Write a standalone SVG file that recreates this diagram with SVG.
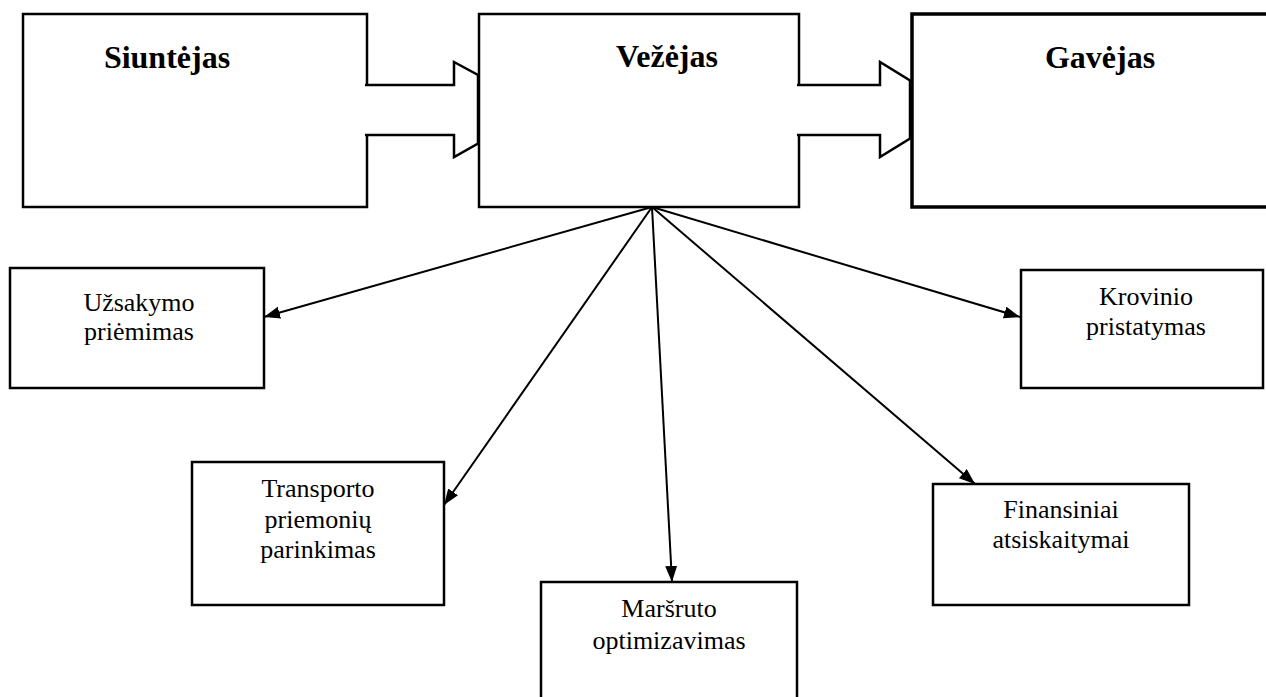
<svg xmlns="http://www.w3.org/2000/svg" width="1266" height="697" viewBox="0 0 1266 697">
  <style>
    .box { fill: #ffffff; stroke: #000000; stroke-width: 2.5; }
    .thick { stroke-width: 3.5; }
    .title { font-family: "Liberation Serif", "Times New Roman", serif; font-size: 32px; font-weight: bold; text-anchor: middle; fill: #000; }
    .label { font-family: "Liberation Serif", "Times New Roman", serif; font-size: 26px; text-anchor: middle; fill: #000; }
    .link { stroke: #000; stroke-width: 2; fill: none; marker-end: url(#head); }
    .block { fill: #ffffff; stroke: #000; stroke-width: 2.5; stroke-linejoin: miter; }
  </style>
  <defs>
    <marker id="head" markerUnits="userSpaceOnUse" markerWidth="18" markerHeight="14" refX="16" refY="6" orient="auto">
      <path d="M0,0 L16,6 L0,12 Z" fill="#000"/>
    </marker>
  </defs>
  <rect width="1266" height="697" fill="#ffffff"/>

  <!-- main parties -->
  <g id="siuntejas">
    <rect class="box" x="23" y="14" width="344" height="193"/>
    <text class="title" x="167" y="68">Siuntėjas</text>
  </g>
  <g id="vezejas">
    <rect class="box" x="479" y="14" width="320" height="193"/>
    <text class="title" x="667" y="67">Vežėjas</text>
  </g>
  <g id="gavejas">
    <rect class="box thick" x="912" y="14" width="370" height="193"/>
    <text class="title" x="1100" y="68">Gavėjas</text>
  </g>

  <!-- carrier functions -->
  <g id="uzsakymo">
    <rect class="box" x="10" y="268" width="254" height="120"/>
    <text class="label" x="139" y="311">Užsakymo</text>
    <text class="label" x="139" y="340">priėmimas</text>
  </g>
  <g id="krovinio">
    <rect class="box" x="1021" y="270" width="242" height="118"/>
    <text class="label" x="1146" y="305">Krovinio</text>
    <text class="label" x="1146" y="335">pristatymas</text>
  </g>
  <g id="transporto">
    <rect class="box" x="192" y="462" width="252" height="143"/>
    <text class="label" x="318" y="497">Transporto</text>
    <text class="label" x="318" y="528">priemonių</text>
    <text class="label" x="318" y="558">parinkimas</text>
  </g>
  <g id="marsruto">
    <rect class="box" x="541" y="582" width="256" height="125"/>
    <text class="label" x="669" y="617">Maršruto</text>
    <text class="label" x="669" y="649">optimizavimas</text>
  </g>
  <g id="finansiniai">
    <rect class="box" x="933" y="484" width="256" height="121"/>
    <text class="label" x="1061" y="518">Finansiniai</text>
    <text class="label" x="1061" y="548">atsiskaitymai</text>
  </g>

  <!-- connectors -->
  <g id="connectors">
    <path class="block" d="M365,85 H454 V62 L478,75 V143.5 L454,157 V135 H365"/>
    <path class="block" d="M797,85 H880 V62 L910,80.5 V138.5 L880,157 V135 H797"/>
    <line class="link" x1="652" y1="207" x2="264" y2="317"/>
    <line class="link" x1="652" y1="207" x2="444" y2="505"/>
    <line class="link" x1="652" y1="207" x2="672" y2="582"/>
    <line class="link" x1="652" y1="207" x2="975" y2="484"/>
    <line class="link" x1="652" y1="207" x2="1020" y2="317"/>
  </g>
</svg>
